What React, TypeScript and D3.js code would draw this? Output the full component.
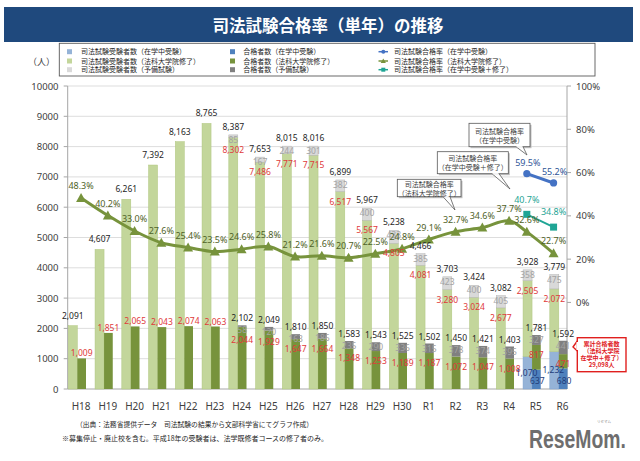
import React from 'react';
import * as d3 from 'd3';

// ---------------- data ----------------
const categories = ['H18','H19','H20','H21','H22','H23','H24','H25','H26','H27','H28','H29','H30','R1','R2','R3','R4','R5','R6'];
const examineesInSchool = [0,0,0,0,0,0,0,0,0,0,0,0,0,0,0,0,0,1070,1232];
const examineesLawSchool = [2091,4607,6261,7392,8163,8765,8302,7486,7771,7715,6517,5567,4805,4081,3280,3024,2677,2505,2072];
const examineesPrelim = [0,0,0,0,0,0,85,167,244,301,382,400,433,385,423,400,405,358,475];
const examineesTotal = [2091,4607,6261,7392,8163,8765,8387,7653,8015,8016,6899,5967,5238,4466,3703,3424,3082,3928,3779];
const passersInSchool = [0,0,0,0,0,0,0,0,0,0,0,0,0,0,0,0,0,637,680];
const passersLawSchool = [1009,1851,2065,2043,2074,2063,2044,1929,1647,1664,1348,1253,1189,1187,1072,1047,1008,817,471];
const passersPrelim = [0,0,0,0,0,0,58,120,163,186,235,290,336,315,378,374,395,327,441];
const passersTotal = [1009,1851,2065,2043,2074,2063,2102,2049,1810,1850,1583,1543,1525,1502,1450,1421,1403,1781,1592];
const rateLawSchool = [48.3,40.2,33.0,27.6,25.4,23.5,24.6,25.8,21.2,21.6,20.7,22.5,24.8,29.1,32.7,34.6,37.7,32.6,22.7];
const rateInSchool: (number | null)[] = [null,null,null,null,null,null,null,null,null,null,null,null,null,null,null,null,null,59.5,55.2];
const rateCombined: (number | null)[] = [null,null,null,null,null,null,null,null,null,null,null,null,null,null,null,null,null,40.7,34.8];
const countTicks = [0,1000,2000,3000,4000,5000,6000,7000,8000,9000,10000];
const rateTicks = [0,20,40,60,80,100];

const legendCol1 = ['司法試験受験者数（在学中受験）','司法試験受験者数（法科大学院修了）','司法試験受験者数（予備試験）'];
const legendCol2 = ['合格者数（在学中受験）','合格者数（法科大学院修了）','合格者数（予備試験）'];
const legendCol3 = ['司法試験合格率（在学中受験）','司法試験合格率（法科大学院修了）','司法試験合格率（在学中受験＋修了）'];

// ---------------- styles ----------------
const C = {
  title: '#1F497D',
  exInSchool: '#95B3D7',
  exLaw: '#C3D69B',
  exPrelim: '#D9D9D9',
  paInSchool: '#4F81BD',
  paLaw: '#77933C',
  paPrelim: '#808080',
  rateLaw: '#77933C',
  rateIn: '#4472C4',
  rateComb: '#1FA595',
  red: '#E03A3A',
  grayLbl: '#A3A3A3',
  dark: '#262626',
  axis: '#404040',
  grid: '#D9D9D9',
};
const JP = '"Noto Sans CJK JP", "Noto Sans", sans-serif';
const NUM = '"Noto Sans", "DejaVu Sans", sans-serif';

const W = 640, H = 461;
const plotL = 67.7, plotR = 567, plotT = 86, plotB = 389;
const step = 26.75;

export default function App() {
  const x = d3.scaleBand<string>().domain(categories).range([plotL, plotL + categories.length * step]).padding(0);
  const y = d3.scaleLinear().domain([0, 10000]).range([plotB, plotT]);
  const yR = d3.scaleLinear().domain([-40, 100]).range([plotB, plotT]);
  const fmt = d3.format(',');
  const bw = x.bandwidth();

  const lx = (i: number) => (x(categories[i]) as number) + 0.6;
  const rx = (i: number) => (x(categories[i]) as number) + 9.6;
  const cx = (i: number) => (x(categories[i]) as number) + bw / 2 + (examineesInSchool[i] > 0 ? -9 : 0);

  const lineGen = d3.line<[number, number | null]>()
    .defined(d => d[1] !== null)
    .x(d => cx(d[0]))
    .y(d => yR(d[1] as number))
    .curve(d3.curveCatmullRom.alpha(0.5));
  const straight = d3.line<[number, number | null]>()
    .defined(d => d[1] !== null)
    .x(d => cx(d[0]))
    .y(d => yR(d[1] as number));

  const ptsLaw = rateLawSchool.map((v, i) => [i, v] as [number, number | null]);
  const ptsIn = rateInSchool.map((v, i) => [i, v] as [number, number | null]);
  const ptsComb = rateCombined.map((v, i) => [i, v] as [number, number | null]);

  const tri = (px: number, py: number, s = 5) => `M${px},${py - s}L${px + s},${py + s * 0.8}L${px - s},${py + s * 0.8}Z`;

  const bars: React.ReactNode[] = [];
  const labels: React.ReactNode[] = [];
  categories.forEach((c, i) => {
    const e1 = examineesInSchool[i], e2 = e1 + examineesLawSchool[i], e3 = e2 + examineesPrelim[i];
    const L = lx(i), Lw = 9, Lc = L + Lw / 2;
    if (examineesInSchool[i] > 0) bars.push(<rect key={'ei' + i} x={L} y={y(e1)} width={Lw} height={y(0) - y(e1)} fill={C.exInSchool} stroke="#7EA3CF" strokeWidth={0.5} />);
    bars.push(<rect key={'el' + i} x={L} y={y(e2)} width={Lw} height={y(e1) - y(e2)} fill={C.exLaw} stroke="#AFC67F" strokeWidth={0.5} />);
    if (examineesPrelim[i] > 0) bars.push(<rect key={'ep' + i} x={L} y={y(e3)} width={Lw} height={y(e2) - y(e3)} fill={C.exPrelim} stroke="#B5B5B5" strokeWidth={0.5} />);
    const p1 = passersInSchool[i], p2 = p1 + passersLawSchool[i], p3 = p2 + passersPrelim[i];
    const R = rx(i), Rw = 8.7, Rc = R + Rw / 2;
    if (passersInSchool[i] > 0) bars.push(<rect key={'pi' + i} x={R} y={y(p1)} width={Rw} height={y(0) - y(p1)} fill={C.paInSchool} />);
    bars.push(<rect key={'pl' + i} x={R} y={y(p2)} width={Rw} height={y(p1) - y(p2)} fill={C.paLaw} />);
    if (passersPrelim[i] > 0) bars.push(<rect key={'pp' + i} x={R} y={y(p3)} width={Rw} height={y(p2) - y(p3)} fill={C.paPrelim} />);

    const t = (key: string, tx: number, ty: number, txt: string, fill: string, size = 8.5) => (
      <text key={key} x={tx} y={ty + size * 0.36} textAnchor="middle" fontFamily={NUM} fontSize={size} fill={fill}>{txt}</text>
    );
    if (examineesPrelim[i] > 0) {
      const gy = y(e3) + 5;
      labels.push(t('et' + i, Lc, y(e3) - 8, fmt(examineesTotal[i]), C.dark));
      labels.push(t('eg' + i, Lc, gy, fmt(examineesPrelim[i]), C.grayLbl));
      labels.push(t('er' + i, Lc, Math.max(y(e2) + 10, gy + 10), fmt(examineesLawSchool[i]), C.red));
    } else {
      labels.push(t('et' + i, Lc, y(e3) - 10, fmt(examineesTotal[i]), C.dark));
    }
    if (examineesInSchool[i] > 0) labels.push(t('eb' + i, Lc - 1, (y(0) + y(e1)) / 2, fmt(examineesInSchool[i]), '#1F3D7A'));
    if (passersPrelim[i] > 0) {
      const gy = y(p3) + 5;
      labels.push(t('pt' + i, Rc, y(p3) - 7, fmt(passersTotal[i]), C.dark));
      labels.push(t('pg' + i, Rc, gy, fmt(passersPrelim[i]), C.grayLbl));
      labels.push(t('pr' + i, Rc, Math.max(y(p2) + 10, gy + 10), fmt(passersLawSchool[i]), C.red));
    } else {
      labels.push(t('pr' + i, Rc, y(p2) - 5, fmt(passersLawSchool[i]), C.red));
    }
    if (passersInSchool[i] > 0) labels.push(t('pb' + i, Rc + 1, (y(0) + y(p1)) / 2 + 2, fmt(passersInSchool[i]), '#1F3D7A'));
  });

  const callout = (key: string, bx: number, by: number, bwid: number, bh: number, l1: string, l2: string, p: [number, number, number, number]) => (
    <g key={key}>
      <rect x={bx + 1.5} y={by + 1.5} width={bwid} height={bh} fill="#BFBFBF" />
      <path d={`M${p[0]},${by + bh}L${p[2]},${p[3]}L${p[1]},${by + bh}`} fill="white" stroke="#595959" strokeWidth={0.8} />
      <rect x={bx} y={by} width={bwid} height={bh} fill="white" stroke="#595959" strokeWidth={0.8} />
      <line x1={p[0] + 0.5} x2={p[1] - 0.5} y1={by + bh} y2={by + bh} stroke="white" strokeWidth={1.2} />
      <text x={bx + bwid / 2} y={by + bh / 2 - 1.5} textAnchor="middle" fontFamily={JP} fontSize={7} fill="#404040">{l1}</text>
      <text x={bx + bwid / 2} y={by + bh / 2 + 7.5} textAnchor="middle" fontFamily={JP} fontSize={7} fill="#404040">{l2}</text>
    </g>
  );

  const legendRows = [51.7, 61, 69.7];

  return (
    <svg width={W} height={H} viewBox={`0 0 ${W} ${H}`} style={{ position: 'absolute', left: 0, top: 0, background: 'white' }}>
      <rect x={4} y={7} width={629} height={35} fill={C.title} />
      <text x={328} y={31.5} textAnchor="middle" fontFamily={JP} fontWeight="bold" fontSize={16.5} fill="white">司法試験合格率（単年）の推移</text>

      <rect x={59.3} y={43.3} width={535.7} height={32.7} fill="white" stroke="#595959" strokeWidth={0.9} />
      {legendCol1.map((s, k) => (
        <g key={'l1' + k}>
          <rect x={67} y={legendRows[k] - 2.5} width={5} height={5} fill={[C.exInSchool, C.exLaw, C.exPrelim][k]} />
          <text x={81} y={legendRows[k] + 2.5} fontFamily={JP} fontSize={7} fill={C.dark}>{s}</text>
        </g>
      ))}
      {legendCol2.map((s, k) => (
        <g key={'l2' + k}>
          <rect x={230} y={legendRows[k] - 2.5} width={5} height={5} fill={[C.paInSchool, C.paLaw, C.paPrelim][k]} />
          <text x={243.3} y={legendRows[k] + 2.5} fontFamily={JP} fontSize={7} fill={C.dark}>{s}</text>
        </g>
      ))}
      {legendCol3.map((s, k) => {
        const col = [C.rateIn, C.rateLaw, C.rateComb][k];
        const ly = legendRows[k];
        return (
          <g key={'l3' + k}>
            <line x1={378.5} x2={388} y1={ly} y2={ly} stroke={col} strokeWidth={1.5} />
            {k === 0 && <circle cx={383.3} cy={ly} r={2} fill={col} />}
            {k === 1 && <path d={tri(383.3, ly, 2.6)} fill={col} />}
            {k === 2 && <rect x={381.3} y={ly - 2} width={4} height={4} fill={col} />}
            <text x={394} y={ly + 2.5} fontFamily={JP} fontSize={7} fill={C.dark}>{s}</text>
          </g>
        );
      })}

      <text x={41.5} y={65} textAnchor="middle" fontFamily={JP} fontSize={9} fill={C.axis}>（人）</text>

      {countTicks.map(v => (
        <line key={'g' + v} x1={plotL} x2={plotR} y1={y(v)} y2={y(v)} stroke={v === 0 ? '#A6A6A6' : C.grid} strokeWidth={v === 0 ? 1 : 0.9} />
      ))}
      <line x1={plotL} x2={plotL} y1={plotT} y2={plotB} stroke="#A6A6A6" strokeWidth={1} />
      <line x1={plotR} x2={plotR} y1={plotT} y2={plotB} stroke="#A6A6A6" strokeWidth={1} />
      {countTicks.map(v => (
        <g key={'yt' + v}>
          <line x1={plotL - 4} x2={plotL} y1={y(v)} y2={y(v)} stroke="#A6A6A6" />
          <text x={58.5} y={y(v) + 3.5} textAnchor="end" fontFamily={NUM} fontSize={9.5} fill={C.axis}>{v}</text>
        </g>
      ))}
      {rateTicks.map(v => (
        <g key={'rt' + v}>
          <line x1={plotR} x2={plotR + 4} y1={yR(v)} y2={yR(v)} stroke="#A6A6A6" />
          <text x={576} y={yR(v) + 3.5} fontFamily={NUM} fontSize={9.5} fill={C.axis}>{v}%</text>
        </g>
      ))}

      {bars}

      <path d={lineGen(ptsLaw) || ''} fill="none" stroke={C.rateLaw} strokeWidth={3} />
      {ptsLaw.map(([i, v]) => <path key={'tl' + i} d={tri(cx(i), yR(v as number), 5)} fill={C.rateLaw} />)}
      <path d={straight(ptsIn) || ''} fill="none" stroke={C.rateIn} strokeWidth={3} />
      {ptsIn.filter(d => d[1] !== null).map(([i, v]) => <circle key={'ci' + i} cx={cx(i)} cy={yR(v as number)} r={3.6} fill={C.rateIn} />)}
      <path d={straight(ptsComb) || ''} fill="none" stroke={C.rateComb} strokeWidth={1.8} />
      {ptsComb.filter(d => d[1] !== null).map(([i, v]) => <rect key={'sq' + i} x={cx(i) - 3.5} y={yR(v as number) - 3.5} width={7} height={7} fill={C.rateComb} />)}

      {labels}
      {ptsLaw.map(([i, v]) => (
        <text key={'rl' + i} x={cx(i)} y={yR(v as number) - 12 + 3.2} textAnchor="middle" fontFamily={NUM} fontSize={9} fill="#4F6228">{(v as number).toFixed(1)}%</text>
      ))}
      {ptsIn.filter(d => d[1] !== null).map(([i, v]) => (
        <text key={'ril' + i} x={cx(i) + 1} y={yR(v as number) - 11 + 3.2} textAnchor="middle" fontFamily={NUM} fontSize={9} fill="#2F5597">{(v as number).toFixed(1)}%</text>
      ))}
      {ptsComb.filter(d => d[1] !== null).map(([i, v]) => (
        <text key={'rcl' + i} x={cx(i)} y={yR(v as number) - 15 + 3.2} textAnchor="middle" fontFamily={NUM} fontSize={9} fill={C.rateComb}>{(v as number).toFixed(1)}%</text>
      ))}

      {categories.map(c => (
        <text key={'xl' + c} x={(x(c) as number) + bw / 2} y={409.5} textAnchor="middle" fontFamily={NUM} fontSize={10} fill={C.axis}>{c}</text>
      ))}

      {callout('c1', 469, 123.3, 61, 23.4, '司法試験合格率', '（在学中受験）', [516, 523, 527, 155])}
      {callout('c2', 437.3, 151.7, 71, 22, '司法試験合格率', '（在学中受験＋修了）', [492, 499, 510, 189])}
      {callout('c3', 397.3, 179.3, 63.7, 17.4, '司法試験合格率', '（法科大学院修了）', [443, 450, 455, 210])}

      <g>
        <path d="M577.3,341 L573,347 L577.3,351" fill="white" stroke="#E0201E" strokeWidth={1.4} />
        <rect x={577.3} y={337.7} width={48.7} height={34} fill="white" stroke="#E0201E" strokeWidth={1.4} />
        <line x1={577.3} x2={577.3} y1={342} y2={350} stroke="white" strokeWidth={1.6} />
        {['累計合格者数', '（法科大学院', '在学中＋修了）', '29,098人'].map((s, k) => (
          <text key={'rc' + k} x={601.6} y={346.3 + k * 7} textAnchor="middle" fontFamily={JP} fontWeight="bold" fontSize={6} fill="#E0201E">{s}</text>
        ))}
      </g>

      <text x={76} y={427} fontFamily={JP} fontSize={7} fill={C.dark} textLength={237} lengthAdjust="spacingAndGlyphs">（出典：法務省提供データ　司法試験の結果から文部科学省にてグラフ作成）</text>
      <text x={62} y={441} fontFamily={JP} fontSize={7} fill={C.dark} textLength={266} lengthAdjust="spacingAndGlyphs">※募集停止・廃止校を含む。平成18年の受験者は、法学既修者コースの修了者のみ。</text>

      <text x={604} y={422.5} textAnchor="middle" fontFamily={JP} fontSize={3.5} fill="#8A8A8A">リセマム</text>
      <text x={529} y={447.5} fontFamily='"Liberation Sans", Arial, sans-serif' fontWeight="bold" fontSize={25} fill="#6E6E6E" textLength={97} lengthAdjust="spacingAndGlyphs">ReseMom.</text>
    </svg>
  );
}
